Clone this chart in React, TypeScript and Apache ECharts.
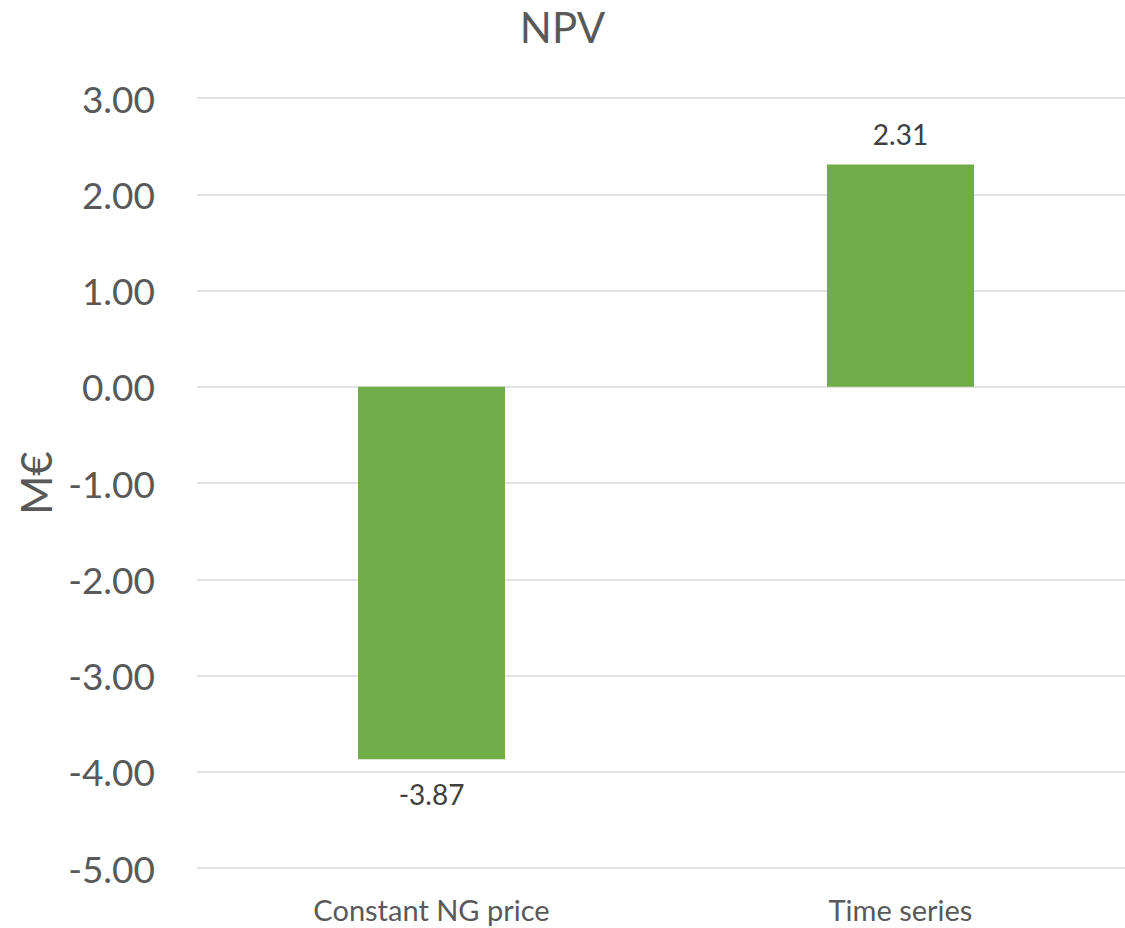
import React, { useEffect, useRef } from "react";
import * as echarts from "echarts";

const categories = ["Constant NG price", "Time series"];
const npvValues = [-3.87, 2.31];
const yMin = -5;
const yMax = 3;
const yStep = 1;

const FONT = "Lato, 'Open Sans', sans-serif";

export default function App() {
  const ref = useRef<HTMLDivElement>(null);

  useEffect(() => {
    const chart = echarts.init(ref.current!, null, { renderer: "svg" });
    chart.setOption({
      animation: false,
      backgroundColor: "#ffffff",
      title: {
        text: "NPV",
        left: "center",
        top: 1,
        textStyle: { fontFamily: FONT, fontSize: 42, fontWeight: "normal", color: "#595959" },
      },
      grid: { left: 197, right: -10, top: 98, bottom: 60, containLabel: false, outerBoundsMode: "none" },
      xAxis: {
        type: "category",
        data: categories,
        position: "bottom",
        axisLine: { show: false, onZero: false },
        axisTick: { show: false },
        axisLabel: { fontFamily: FONT, fontSize: 29, color: "#595959", margin: 27 },
      },
      yAxis: {
        type: "value",
        min: yMin,
        max: yMax,
        interval: yStep,
        name: "M€",
        nameLocation: "middle",
        nameGap: 138,
        nameTextStyle: { fontFamily: FONT, fontSize: 42, color: "#595959" },
        axisLine: { show: false },
        axisTick: { show: false },
        splitLine: { lineStyle: { color: "#d9d9d9", width: 1.5 } },
        axisLabel: {
          fontFamily: FONT,
          fontSize: 37,
          color: "#595959",
          margin: 42,
          formatter: (v: number) => v.toFixed(2),
        },
      },
      series: [
        {
          type: "bar",
          data: npvValues.map((v) => ({
            value: v,
            label: { distance: v < 0 ? 21 : 16 },
          })),
          barWidth: 147,
          itemStyle: { color: "#70ad47" },
          label: {
            show: true,
            position: "outside",
            fontFamily: FONT,
            fontSize: 28,
            color: "#404040",
            formatter: (p: any) => Number(p.value).toFixed(2),
          },
        },
      ],
    });
    return () => chart.dispose();
  }, []);

  return (
    <div
      ref={ref}
      style={{ position: "fixed", left: 0, top: 0, width: 1125, height: 928 }}
    />
  );
}
